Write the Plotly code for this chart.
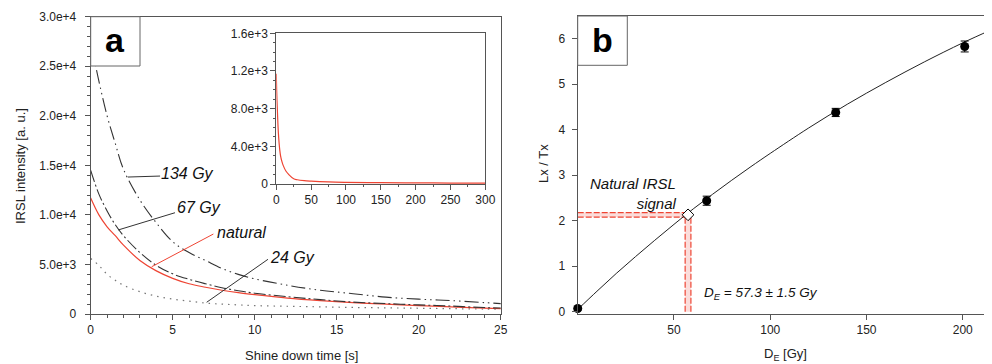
import plotly.graph_objects as go

# ---------------- data: panel a (IRSL decay curves) ----------------
t_s = [0, 0.5, 1, 1.5, 2, 3, 4, 5, 6, 7, 8, 9, 10, 12, 14, 16, 18, 20, 22, 24, 25]
irsl_134 = [27500, 23500, 20000, 17200, 14600, 11500, 9200, 7300, 6200, 5400, 4600, 4000,
            3550, 2900, 2400, 2050, 1700, 1500, 1350, 1150, 1050]
irsl_67 = [14500, 12100, 10400, 9000, 7900, 6200, 4900, 4050, 3500, 3050, 2650, 2350,
           2100, 1750, 1450, 1200, 1050, 920, 800, 650, 600]
irsl_nat = [11700, 10000, 8800, 7900, 6950, 5400, 4350, 3600, 3050, 2700, 2400, 2150,
            1950, 1600, 1350, 1150, 1000, 850, 720, 600, 550]
irsl_24 = [5600, 4900, 4000, 3400, 2900, 2250, 1800, 1500, 1300, 1100, 1000, 920,
           850, 780, 720, 660, 620, 580, 540, 500, 480]

# inset: natural curve over full 300 s
t_inset = [0, 0.5, 1, 1.5, 2, 3, 4, 5, 6, 8, 10, 14, 18, 25, 30, 40, 50, 75, 100, 150, 200, 250, 300]
irsl_inset = [11700, 10000, 8800, 7900, 6950, 5400, 4350, 3600, 3050, 2400, 1950, 1350, 1000,
              550, 450, 350, 300, 220, 180, 140, 120, 100, 90]
inset_ytickvals = [0, 4000, 8000, 12000, 16000]
inset_yticktext = ["0", "4.0e+3", "8.0e+3", "1.2e+3", "1.6e+3"]
main_ytickvals = [0, 5000, 10000, 15000, 20000, 25000, 30000]
main_yticktext = ["0", "5.0e+3", "1.0e+4", "1.5e+4", "2.0e+4", "2.5e+4", "3.0e+4"]

# ---------------- data: panel b (dose response) ----------------
dose = [0, 67, 134, 201]
lxtx = [0.07, 2.44, 4.38, 5.83]
lxtx_err = [0.03, 0.1, 0.09, 0.12]
fit_dose = [0, 10, 20, 30, 40, 50, 60, 70, 80, 90, 100, 120, 140, 160, 180, 200, 215]
fit_lxtx = [0.05, 0.45, 0.84, 1.21, 1.57, 1.92, 2.26, 2.58, 2.89, 3.19, 3.48, 4.04, 4.56,
            5.04, 5.49, 5.91, 6.20]
de_val = 57.3
de_err = 1.5
nat_lxtx = 2.13
nat_lxtx_err = 0.05

FONT = "Liberation Sans, Arial, sans-serif"
RED = "#ee4433"
AX = "#555555"
OFF = 8                      # page body margin
W, H = 992 - OFF, 364 - OFF

fig = go.Figure()

# panel a curves
fig.add_trace(go.Scatter(x=t_s, y=irsl_24, mode="lines", line=dict(color="#777777", width=1.2, dash="1.5px,5px"),
                         xaxis="x", yaxis="y", line_shape="spline"))
fig.add_trace(go.Scatter(x=t_s, y=irsl_nat, mode="lines", line=dict(color=RED, width=1.2),
                         xaxis="x", yaxis="y", line_shape="spline"))
fig.add_trace(go.Scatter(x=t_s, y=irsl_67, mode="lines", line=dict(color="#333333", width=1.1, dash="12px,3px,2px,3px"),
                         xaxis="x", yaxis="y", line_shape="spline"))
fig.add_trace(go.Scatter(x=t_s, y=irsl_134, mode="lines",
                         line=dict(color="#333333", width=1.1, dash="14px,4px,1.5px,4px,1.5px,4px"),
                         xaxis="x", yaxis="y", line_shape="spline"))

# inset
fig.add_trace(go.Scatter(x=t_inset, y=irsl_inset, mode="lines", line=dict(color=RED, width=1.2),
                         xaxis="x2", yaxis="y2", line_shape="spline"))

# panel b: natural signal projection lines (band + dashed borders)
lo_y, hi_y = nat_lxtx - nat_lxtx_err, nat_lxtx + nat_lxtx_err
lo_x, hi_x = de_val - de_err, de_val + de_err
fig.add_trace(go.Scatter(x=[0, lo_x, lo_x, 0], y=[lo_y, lo_y, hi_y, hi_y], fill="toself",
                         fillcolor="rgba(240,120,110,0.25)", line=dict(width=0), mode="lines",
                         xaxis="x3", yaxis="y3"))
fig.add_trace(go.Scatter(x=[lo_x, hi_x, hi_x, lo_x], y=[0, 0, lo_y, lo_y], fill="toself",
                         fillcolor="rgba(240,120,110,0.25)", line=dict(width=0), mode="lines",
                         xaxis="x3", yaxis="y3"))
for xs, ys in [([0, lo_x], [lo_y, lo_y]), ([0, lo_x], [hi_y, hi_y]),
               ([lo_x, lo_x], [0, lo_y]), ([hi_x, hi_x], [0, lo_y])]:
    fig.add_trace(go.Scatter(x=xs, y=ys, mode="lines", line=dict(color=RED, width=1.2, dash="6px,2px"),
                             xaxis="x3", yaxis="y3"))

# fit curve
fig.add_trace(go.Scatter(x=fit_dose, y=fit_lxtx, mode="lines", line=dict(color="#222222", width=1),
                         line_shape="spline", xaxis="x3", yaxis="y3"))
# data points
fig.add_trace(go.Scatter(x=dose, y=lxtx, mode="markers",
                         marker=dict(color="black", size=9),
                         error_y=dict(type="data", array=lxtx_err, color="black", thickness=1, width=4),
                         xaxis="x3", yaxis="y3", cliponaxis=False))
# natural point
fig.add_trace(go.Scatter(x=[de_val], y=[nat_lxtx], mode="markers",
                         marker=dict(symbol="diamond", color="white", size=9, line=dict(color="black", width=1)),
                         xaxis="x3", yaxis="y3", cliponaxis=False))

tickfont = dict(family=FONT, size=12, color="#222222")
common = dict(showline=True, linecolor=AX, linewidth=1, mirror=True, ticks="outside", tickcolor=AX,
              ticklen=5, tickfont=tickfont, showgrid=False, zeroline=False, automargin=False)


def px_x(p):
    return (p - OFF) / W


def px_y(p):
    return 1 - (p - OFF) / H


fig.update_layout(
    width=W, height=H, margin=dict(l=0, r=0, t=0, b=0),
    paper_bgcolor="white", plot_bgcolor="white", showlegend=False,
    font=dict(family=FONT, color="#222222"),
    xaxis=dict(domain=[px_x(90.7), px_x(501)], range=[0, 25.02], tickvals=[0, 5, 10, 15, 20, 25],
               minor=dict(dtick=1, ticks="outside", ticklen=3, tickcolor=AX),
               anchor="y", **common),
    yaxis=dict(domain=[px_y(314), px_y(16.7)], range=[0, 30000], tickvals=main_ytickvals, ticktext=main_yticktext,
               minor=dict(dtick=1000, ticks="outside", ticklen=3, tickcolor=AX),
               anchor="x", ticklabelstandoff=6, **common),
    xaxis2=dict(domain=[px_x(276.3), px_x(485.3)], range=[0, 300], tickvals=[0, 50, 100, 150, 200, 250, 300],
                minor=dict(dtick=25, ticks="outside", ticklen=2, tickcolor=AX),
                anchor="y2", **common),
    yaxis2=dict(domain=[px_y(184), px_y(33.3)], range=[0, 16000], tickvals=inset_ytickvals, ticktext=inset_yticktext,
                minor=dict(dtick=1000, ticks="outside", ticklen=2, tickcolor=AX),
                anchor="x2", **common),
    xaxis3=dict(domain=[px_x(577.7), px_x(990.7)], range=[0, 214.5], tickvals=[50, 100, 150, 200],
                anchor="y3", **common),
    yaxis3=dict(domain=[px_y(314), px_y(16)], range=[-0.05, 6.5], tickvals=[0, 1, 2, 3, 4, 5, 6],
                anchor="x3", ticklabelstandoff=4, **common),
)

# label boxes
fig.add_shape(type="rect", xref="paper", yref="paper", x0=px_x(90.7), x1=px_x(140), y0=px_y(66), y1=px_y(16.7),
              fillcolor="white", line=dict(color="#666666", width=1), layer="above")
fig.add_shape(type="rect", xref="paper", yref="paper", x0=px_x(577.7), x1=px_x(627.3), y0=px_y(65.3), y1=px_y(16),
              fillcolor="white", line=dict(color="#666666", width=1), layer="above")

# leader lines panel a
leaders = [((2.27, 13820), (4.23, 13920), "#333333"),
           ((1.68, 8480), (5.14, 10220), "#333333"),
           ((3.72, 4770), (7.48, 8070), RED),
           ((7.07, 1180), (10.81, 5520), "#333333")]
for (x0, y0), (x1, y1), c in leaders:
    fig.add_shape(type="line", xref="x", yref="y", x0=x0, y0=y0, x1=x1, y1=y1,
                  line=dict(color=c, width=1))

ann = []
ann.append(dict(text="<b>a</b>", xref="paper", yref="paper", x=px_x(115.3), y=px_y(40), showarrow=False,
                font=dict(family=FONT, size=34, color="black"), xanchor="center", yanchor="middle"))
ann.append(dict(text="<b>b</b>", xref="paper", yref="paper", x=px_x(602.5), y=px_y(40), showarrow=False,
                font=dict(family=FONT, size=34, color="black"), xanchor="center", yanchor="middle"))
title_font = dict(family=FONT, size=13, color="#222222")
ann.append(dict(text="Shine down time [s]", xref="paper", yref="paper", x=px_x(301), y=px_y(355),
                showarrow=False, xanchor="center", yanchor="middle", font=title_font))
ann.append(dict(text="IRSL intensity [a. u.]", xref="paper", yref="paper", x=px_x(20), y=px_y(166),
                showarrow=False, xanchor="center", yanchor="middle", textangle=-90, font=title_font))
ann.append(dict(text="D<sub>E</sub> [Gy]", xref="paper", yref="paper", x=px_x(785), y=px_y(354),
                showarrow=False, xanchor="center", yanchor="middle", font=title_font))
ann.append(dict(text="Lx / Tx", xref="paper", yref="paper", x=px_x(543), y=px_y(164),
                showarrow=False, xanchor="center", yanchor="middle", textangle=-90, font=title_font))
lab_font = dict(family=FONT, size=16, color="#111111")
for txt, x, y in [("<i>134 Gy</i>", 4.15, 14200), ("<i>67 Gy</i>", 5.14, 10700),
                  ("<i>natural</i>", 7.58, 8200), ("<i>24 Gy</i>", 10.82, 5720)]:
    ann.append(dict(text=txt, xref="x", yref="y", x=x, y=y, showarrow=False, xanchor="left",
                    yanchor="middle", font=lab_font))
ann.append(dict(text="<i>Natural IRSL</i><br><i>signal</i>", xref="x3", yref="y3", x=52.5, y=2.6,
                showarrow=False, xanchor="right", yanchor="middle", align="right",
                font=dict(family=FONT, size=15, color="#111111")))
ann.append(dict(text="<i>D<sub>E</sub> = 57.3 ± 1.5 Gy</i>", xref="x3", yref="y3", x=64.4, y=0.4,
                showarrow=False, xanchor="left", yanchor="middle",
                font=dict(family=FONT, size=13.5, color="#111111")))
fig.update_layout(annotations=ann)

fig.write_html("out.html")
